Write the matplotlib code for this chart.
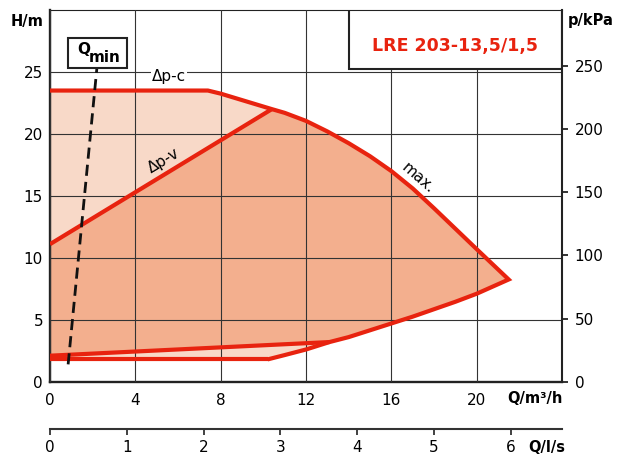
import matplotlib
matplotlib.use("Agg")
import matplotlib.pyplot as plt
from matplotlib.patches import Rectangle

# pump curve data (Q in m3/h, H in m)
q_dpc = [0, 7.4, 8.0, 10.4]
h_dpc = [23.5, 23.5, 23.25, 22.0]
q_dpv = [0, 10.4]
h_dpv = [11.1, 22.0]
q_max = [10.4, 11.0, 12.0, 13.0, 14.0, 15.0, 16.0, 17.0, 18.0, 19.0, 20.0, 21.5]
h_max = [22.0, 21.7, 21.05, 20.2, 19.25, 18.2, 17.0, 15.6, 14.0, 12.35, 10.7, 8.25]
q_low = [21.5, 20.0, 19.0, 18.0, 17.0, 16.0, 15.0, 14.0, 13.1, 12.0, 11.0, 10.2]
h_low = [8.25, 7.1, 6.45, 5.85, 5.25, 4.7, 4.15, 3.6, 3.2, 2.6, 2.15, 1.8]
q_min1 = [0, 13.1]
h_min1 = [2.1, 3.2]
q_min2 = [0, 10.2]
h_min2 = [1.8, 1.8]
q_qmin = [0.85, 2.2]
h_qmin = [1.4, 25.35]

x_ticks = [0, 4, 8, 12, 16, 20]
y_ticks = [0, 5, 10, 15, 20, 25]
kpa_ticks = [0, 50, 100, 150, 200, 250]
ls_ticks = [0, 1, 2, 3, 4, 5, 6]

red = "#e8230f"
light = "#f8d9c8"
dark = "#f3af8e"
edge = "#222222"

fig = plt.figure(figsize=(6.18, 4.61), dpi=100)
ax = fig.add_axes([0.0809, 0.172, 0.8285, 0.8063])
ax.set_xlim(0, 24)
ax.set_ylim(0, 30)

# index of the point where the upper minimum line meets the lower curve
j = q_low.index(13.1)

# fills
light_q = q_dpc + q_max[1:] + q_low[1:] + [0]
light_h = h_dpc + h_max[1:] + h_low[1:] + [h_min2[0]]
ax.fill(light_q, light_h, color=light, lw=0, zorder=1)
dark_q = q_dpv + q_max[1:] + q_low[1:j + 1] + [0]
dark_h = h_dpv + h_max[1:] + h_low[1:j + 1] + [h_min1[0]]
ax.fill(dark_q, dark_h, color=dark, lw=0, zorder=1.5)

# curves
outer_q = q_dpc + q_max[1:] + q_low[1:]
outer_h = h_dpc + h_max[1:] + h_low[1:]
kw = dict(color=red, lw=3, zorder=3, solid_joinstyle="miter", solid_capstyle="butt")
ax.plot(outer_q, outer_h, **kw)
ax.plot(q_dpv, h_dpv, **kw)
ax.plot(q_min1, h_min1, **kw)
ax.plot(q_min2, h_min2, **kw)

ax.plot(q_qmin, h_qmin, color="#111111", lw=2, dashes=(4, 2.2), zorder=3.5)

ax.set_xticks(x_ticks)
ax.set_yticks(y_ticks)
ax.grid(True, color="#333333", lw=0.8, zorder=2)
ax.set_axisbelow(False)
ax.tick_params(axis="both", length=0, labelsize=11)
ax.tick_params(axis="x", pad=8)
ax.tick_params(axis="y", pad=5)
for s in ["left", "bottom"]:
    ax.spines[s].set_linewidth(1.7)
    ax.spines[s].set_color(edge)
ax.spines["top"].set_linewidth(0.8)
ax.spines["top"].set_color(edge)
ax.spines["right"].set_visible(False)

# right axis in kPa
ax2 = ax.twinx()
ax2.set_ylim(0, 30 * 9.81)
ax2.set_yticks(kpa_ticks)
ax2.tick_params(axis="y", length=4, width=1.3, labelsize=11, pad=5, color=edge)
for s in ["left", "top", "bottom"]:
    ax2.spines[s].set_visible(False)
ax2.spines["right"].set_linewidth(1.5)
ax2.spines["right"].set_color(edge)

# title box
ax.add_patch(Rectangle((14.02, 25.2), 24 - 14.02, 4.8, facecolor="white",
                       edgecolor=edge, lw=1.5, zorder=4))
ax.text(19.0, 27.1, "LRE 203-13,5/1,5", color=red, fontsize=12.5,
        fontweight="bold", ha="center", va="center", zorder=5)

# Qmin box
ax.add_patch(Rectangle((0.86, 25.33), 3.6 - 0.86, 2.38, facecolor="white",
                       edgecolor=edge, lw=1.5, zorder=4))
ax.text(1.3, 26.45, "Q", fontsize=11, fontweight="bold", ha="left",
        va="baseline", zorder=5)
ax.text(1.83, 25.78, "min", fontsize=11, fontweight="bold", ha="left",
        va="baseline", zorder=5)

# curve labels
ax.text(5.58, 24.65, "\u0394p-c", fontsize=11, ha="center", va="center", zorder=5,
        bbox=dict(facecolor="white", edgecolor="none", pad=1))
ax.text(5.31, 17.8, "\u0394p-v", fontsize=11, ha="center", va="center",
        rotation=31, rotation_mode="anchor", zorder=5)
ax.text(17.24, 16.45, "max.", fontsize=11, ha="center", va="center",
        rotation=-41, rotation_mode="anchor", zorder=5)

# second flow axis in l/s
ax3 = fig.add_axes([0.0809, 0.0694, 0.8285, 0.0001])
ax3.set_xlim(0, 24 / 3.6)
ax3.set_xticks(ls_ticks)
ax3.set_yticks([])
ax3.patch.set_visible(False)
for s in ["left", "top", "right"]:
    ax3.spines[s].set_visible(False)
ax3.spines["bottom"].set_linewidth(1.5)
ax3.spines["bottom"].set_color("#333333")
ax3.tick_params(axis="x", length=4, width=1.3, labelsize=11, pad=4, color="#333333")

# axis titles
fig.text(0.0445, 0.953, "H/m", fontsize=10.5, fontweight="bold", ha="center", va="center")
fig.text(0.956, 0.956, "p/kPa", fontsize=10.5, fontweight="bold", ha="center", va="center")
fig.text(0.911, 0.1345, "Q/m\u00b3/h", fontsize=10.5, fontweight="bold", ha="right", va="center")
fig.text(0.914, 0.0282, "Q/l/s", fontsize=10.5, fontweight="bold", ha="right", va="center")

fig.savefig("out.png", dpi=100)
